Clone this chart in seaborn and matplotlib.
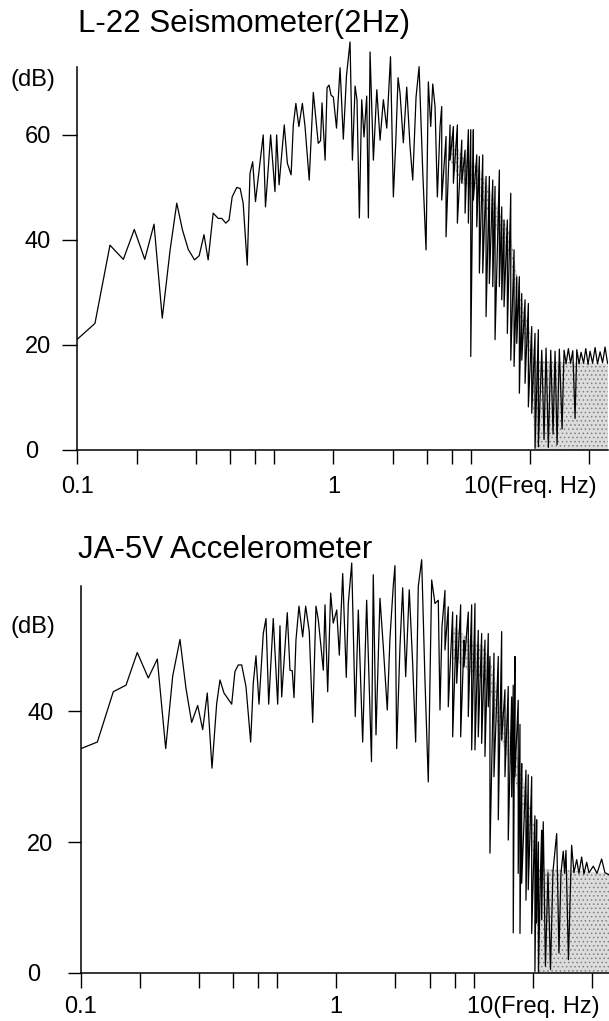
import pandas as pd
import matplotlib
matplotlib.use('Agg')
import matplotlib.pyplot as plt
import seaborn as sns
from matplotlib.ticker import FixedLocator, FixedFormatter, NullLocator

sns.set_style('ticks')
plt.rcParams['font.family'] = ['Liberation Sans', 'DejaVu Sans']
plt.rcParams['hatch.linewidth'] = 0.6
for key in ('text.color', 'axes.labelcolor', 'xtick.color', 'ytick.color', 'axes.edgecolor'):
    plt.rcParams[key] = 'black'

# ---- L-22 seismometer spectrum ----
top_freq = [0.050, 0.0614, 0.0732, 0.0856, 0.0973, 0.110, 0.1226, 0.135, 0.148, 0.160,
            0.171, 0.183, 0.197, 0.208, 0.220, 0.231, 0.245, 0.260, 0.271, 0.284,
            0.295, 0.306, 0.323, 0.336, 0.348, 0.365, 0.377, 0.389, 0.402, 0.440,
            0.452, 0.480, 0.505, 0.515, 0.530, 0.563, 0.584, 0.610, 0.626, 0.645,
            0.668, 0.696, 0.718, 0.754, 0.791, 0.838,
            0.861, 0.876, 0.908, 0.929, 0.951, 0.973, 1.00, 1.038, 1.082, 1.124,
            1.167, 1.216, 1.250, 1.290, 1.319, 1.356, 1.394, 1.432, 1.478, 1.507,
            1.537, 1.598, 1.663, 1.728, 1.796, 1.869, 1.953, 2.019, 2.076, 2.133,
            2.183, 2.269, 2.361, 2.455, 2.533, 2.633, 2.728, 2.849, 2.960, 3.041,
            3.127, 3.201, 3.289, 3.379, 3.487,
            3.556, 3.556, 3.741, 3.741, 3.921, 3.921, 4.076, 4.076, 4.271, 4.271,
            4.496, 4.496, 4.674, 4.674, 4.858, 4.858, 4.996, 4.996, 5.150, 5.150,
            5.359, 5.359, 5.525, 5.525, 5.749, 5.749, 5.976, 5.976, 6.210, 6.210,
            6.463, 6.463, 6.638, 6.638, 6.982, 6.982, 7.180, 7.180, 7.377, 7.377,
            7.666, 7.666, 7.979, 7.979, 8.294, 8.294, 8.558, 8.558, 8.823, 8.823,
            9.075, 9.075, 9.433, 9.433, 9.804, 9.804, 10.20, 10.20, 10.60, 10.60,
            11.02, 11.02,
            11.47, 11.78, 12.06, 12.39, 12.74, 13.09, 13.40, 13.72, 14.09, 14.55,
            14.89, 15.25, 15.66, 16.07, 16.49, 16.94, 17.28, 17.75, 18.17, 18.71,
            19.20, 19.72, 20.19, 20.79, 21.41, 22.03, 22.70, 23.37, 24.06, 24.78]
top_db = [21.1, 24.1, 39.0, 36.3, 42.0, 36.3, 43.0, 25.1, 38.1, 47.0,
          41.9, 38.2, 36.2, 37.0, 41.0, 36.2, 45.1, 44.1, 44.1, 43.2,
          43.8, 48.2, 50.0, 49.8, 47.0, 35.2, 52.7, 54.9, 47.3, 60.0,
          46.3, 60.0, 49.2, 60.0, 50.5, 61.9, 54.6, 52.4, 61.9, 66.0,
          61.6, 66.0, 61.6, 51.4, 68.1, 58.4,
          58.9, 66.1, 55.2, 69.0, 69.5, 67.6, 67.2, 61.3, 72.8, 59.2,
          71.4, 77.7, 55.2, 69.3, 66.7, 44.2, 66.7, 59.6, 67.4, 44.2,
          75.8, 55.2, 68.6, 59.0, 66.7, 61.3, 74.9, 48.2, 58.5, 70.9,
          68.0, 58.5, 69.1, 57.7, 51.4, 67.2, 73.0, 52.8, 38.1, 70.1,
          61.6, 69.7, 65.4, 48.2, 61.6,
          65.4, 47.6, 59.7, 40.6, 61.9, 55.2, 61.6, 50.8, 61.9, 43.2,
          59.0, 50.8, 57.1, 45.1, 61.0, 43.2, 61.0, 17.8, 61.0, 47.6,
          56.2, 42.5, 55.9, 33.7, 56.2, 33.7, 52.1, 25.4, 52.1, 31.7,
          51.4, 31.1, 50.2, 21.0, 53.3, 31.1, 46.3, 28.6, 43.8, 27.3,
          43.8, 22.2, 48.9, 17.1, 38.1, 15.9, 33.0, 20.3, 33.0, 10.8,
          29.8, 17.1, 28.6, 12.7, 27.9, 8.2, 23.5, 7.0, 22.2, 0.3,
          22.9, 0.6,
          19.0, 2.0, 19.4, 0.5, 19.0, 3.0, 18.8, 1.0, 19.2, 4.0,
          19.0, 16.4, 19.3, 16.5, 18.9, 6.0, 19.1, 16.4, 18.6, 16.5,
          19.3, 16.3, 18.8, 16.5, 19.5, 16.4, 18.7, 16.6, 19.6, 16.5]
# densely oscillating part (drawn as a grey band)
top_band_freq = [3.94, 4.58, 5.36, 6.26, 7.31, 7.96, 8.56, 9.27, 10.0, 10.6, 25.0]
top_band_lo = [55.0, 50.5, 49.5, 44.5, 39.0, 36.0, 28.5, 22.0, 18.0, 0.0, 0.0]
top_band_hi = [60.0, 55.5, 54.5, 49.5, 44.0, 41.0, 33.5, 27.0, 23.0, 17.0, 16.4]

# ---- JA-5V accelerometer spectrum ----
bot_freq = [0.0503, 0.0609, 0.0734, 0.0852, 0.0972, 0.1106, 0.1229, 0.1356, 0.1472, 0.1603,
            0.1720, 0.1838, 0.1972, 0.2091, 0.2207, 0.2332, 0.2464, 0.2561, 0.2684, 0.2937,
            0.3052, 0.3173, 0.3302, 0.3472, 0.3668, 0.3782, 0.3904, 0.4044, 0.4252, 0.4390,
            0.4531, 0.4780, 0.5034, 0.5171, 0.5275, 0.5632, 0.5813, 0.5972, 0.6093, 0.6235,
            0.6459, 0.6745, 0.6986, 0.7287, 0.7584, 0.7883,
            0.810, 0.833, 0.859, 0.876, 0.904, 0.936, 0.965, 1.005, 1.036, 1.078,
            1.124, 1.151, 1.198, 1.249, 1.294, 1.362, 1.427, 1.510, 1.542, 1.592,
            1.668, 1.734, 1.817, 1.875, 1.949, 1.988, 2.028, 2.108, 2.176, 2.254,
            2.350, 2.446, 2.533, 2.612, 2.718, 2.825, 2.937, 3.056, 3.176, 3.302,
            3.368, 3.448,
            3.571, 3.571, 3.712, 3.712, 3.908, 3.908, 4.097, 4.097, 4.292, 4.292,
            4.462, 4.462, 4.692, 4.692, 4.882, 4.882, 5.074, 5.074, 5.274, 5.274,
            5.488, 5.488, 5.704, 5.704, 5.929, 5.929, 6.047, 6.047, 6.339, 6.339,
            6.667, 6.667, 6.937, 6.937, 7.209, 7.209, 7.493, 7.493, 7.798, 7.798,
            7.944, 7.944, 8.10, 8.10, 8.42, 8.42, 8.596, 8.596, 8.77, 8.77,
            9.22, 9.22, 9.47, 9.47, 9.86, 9.86, 10.24, 10.24, 10.45, 10.45,
            10.67, 10.67, 10.93, 11.08, 11.08,
            11.29, 11.58, 11.93, 12.29, 12.65, 13.21, 13.57, 13.89, 14.27, 14.50,
            14.73, 15.16, 15.74, 16.17, 16.70, 17.15, 17.70, 18.18, 18.77, 19.28,
            20.28, 21.18, 22.37, 23.25, 24.37]
bot_db = [34.3, 35.3, 43.0, 44.0, 49.0, 45.1, 48.0, 34.3, 45.4, 51.0,
          43.5, 38.3, 40.9, 37.2, 42.8, 31.3, 41.2, 44.8, 42.8, 41.1,
          46.1, 47.1, 47.1, 43.8, 35.3, 44.3, 48.5, 41.1, 51.9, 54.2,
          41.1, 54.2, 41.1, 53.1, 42.2, 55.1, 46.3, 46.2, 42.1, 50.9,
          56.1, 51.4, 56.1, 52.2, 38.3, 56.1,
          54.0, 50.4, 46.3, 56.3, 43.0, 58.1, 53.5, 55.5, 48.6, 61.1,
          45.2, 56.5, 62.7, 39.2, 55.5, 35.3, 57.0, 32.3, 60.9, 36.4,
          57.3, 49.9, 40.2, 51.2, 59.2, 62.3, 34.3, 49.9, 58.9, 45.3,
          58.6, 47.3, 35.3, 59.1, 63.2, 44.8, 29.2, 60.1, 56.5, 57.0,
          40.2, 52.9,
          58.5, 49.4, 56.0, 40.7, 55.2, 36.1, 54.7, 44.3, 56.3, 36.1,
          50.9, 46.8, 55.2, 39.2, 56.3, 34.1, 56.5, 34.1, 52.4, 36.1,
          51.9, 35.1, 50.9, 33.1, 51.9, 40.7, 48.4, 18.3, 48.9, 30.0,
          48.4, 23.4, 52.2, 35.6, 43.3, 30.0, 43.8, 20.3, 42.2, 26.9,
          44.0, 6.1, 48.4, 30.0, 41.7, 15.2, 38.0, 6.0, 32.0, 13.7,
          31.0, 11.1, 30.3, 12.7, 30.0, 6.0, 24.0, 0.2, 23.4, 7.6,
          20.0, 0.1, 15.3, 21.8, 8.1,
          23.1, 1.0, 15.3, 0.5, 15.5, 21.3, 3.0, 15.2, 18.6, 15.2,
          18.7, 2.0, 19.5, 15.3, 17.3, 15.2, 17.7, 15.1, 16.9, 15.3,
          16.3, 15.2, 17.4, 15.3, 15.0]
bot_band_freq = [3.94, 4.79, 5.59, 6.17, 6.80, 7.64, 8.27, 8.93, 9.66, 10.24, 10.6, 25.0]
bot_band_lo = [48.0, 46.0, 45.0, 42.0, 36.0, 32.0, 28.5, 24.5, 20.5, 17.0, 0.0, 0.0]
bot_band_hi = [53.0, 51.0, 50.0, 47.0, 41.0, 37.0, 33.5, 29.5, 25.5, 22.0, 16.0, 15.2]

titles = ['L-22 Seismometer(2Hz)', 'JA-5V Accelerometer']
xtick_pos = [0.05, 0.1, 0.2, 0.3, 0.4, 0.5, 1, 2, 3, 4, 5, 10, 20]
xtick_labels = ['0.1', '', '', '', '', '', '1', '', '', '', '', '10(Freq. Hz)', '']


def draw_panel(ax, freq, db, band_f, band_lo, band_hi, yticks, ytop, spine_top,
               ylab_y, ylab_x, tick_len, ypad, xpad):
    ax.fill_between(band_f, band_lo, band_hi, facecolor='#dcdcdc', edgecolor='#808080',
                    hatch='....', linewidth=0, zorder=1)
    df = pd.DataFrame({'freq': freq, 'db': db})
    sns.lineplot(data=df, x='freq', y='db', ax=ax, color='black', linewidth=0.9,
                 estimator=None, sort=False, zorder=2)
    ax.set_xscale('log')
    ax.set_xlim(0.05, 25)
    ax.set_ylim(0, ytop)
    ax.xaxis.set_major_locator(FixedLocator(xtick_pos))
    ax.xaxis.set_major_formatter(FixedFormatter(xtick_labels))
    ax.xaxis.set_minor_locator(NullLocator())
    ax.set_yticks(yticks)
    ax.set_xlabel('')
    ax.set_ylabel('')
    sns.despine(ax=ax)
    ax.spines['left'].set_bounds(0, spine_top)
    for s in ('left', 'bottom'):
        ax.spines[s].set_linewidth(1.1)
    ax.tick_params(axis='y', direction='out', length=tick_len[0], width=1.0,
                   pad=ypad, labelsize=17)
    ax.tick_params(axis='x', direction='out', length=tick_len[1], width=1.0,
                   pad=xpad, labelsize=17)
    # y tick labels in the original are left-aligned
    for lab in ax.get_yticklabels():
        lab.set_horizontalalignment('left')
    ax.text(ylab_x, ylab_y, '(dB)', transform=ax.get_yaxis_transform(),
            ha='center', va='center', fontsize=17)


fig = plt.figure(figsize=(6.09, 10.21), dpi=100)
ax1 = fig.add_axes([0.1271, 0.5593, 0.8718, 0.4114])
ax2 = fig.add_axes([0.1322, 0.0473, 0.8713, 0.4096])

draw_panel(ax1, top_freq, top_db, top_band_freq, top_band_lo, top_band_hi,
           [0, 20, 40, 60], 80, 73, 70.5, -0.084, (10.8, 9.8), 27, 9)
draw_panel(ax2, bot_freq, bot_db, bot_band_freq, bot_band_lo, bot_band_hi,
           [0, 20, 40], 64, 59.2, 52.9, -0.09, (9.5, 10.5), 29, 6)

fig.text(78 / 609, 1 - 31.7 / 1021, titles[0], fontsize=22.5, va='baseline', ha='left')
fig.text(78 / 609, 1 - 558.3 / 1021, titles[1], fontsize=22.5, va='baseline', ha='left')

fig.savefig('out.png', dpi=100)
